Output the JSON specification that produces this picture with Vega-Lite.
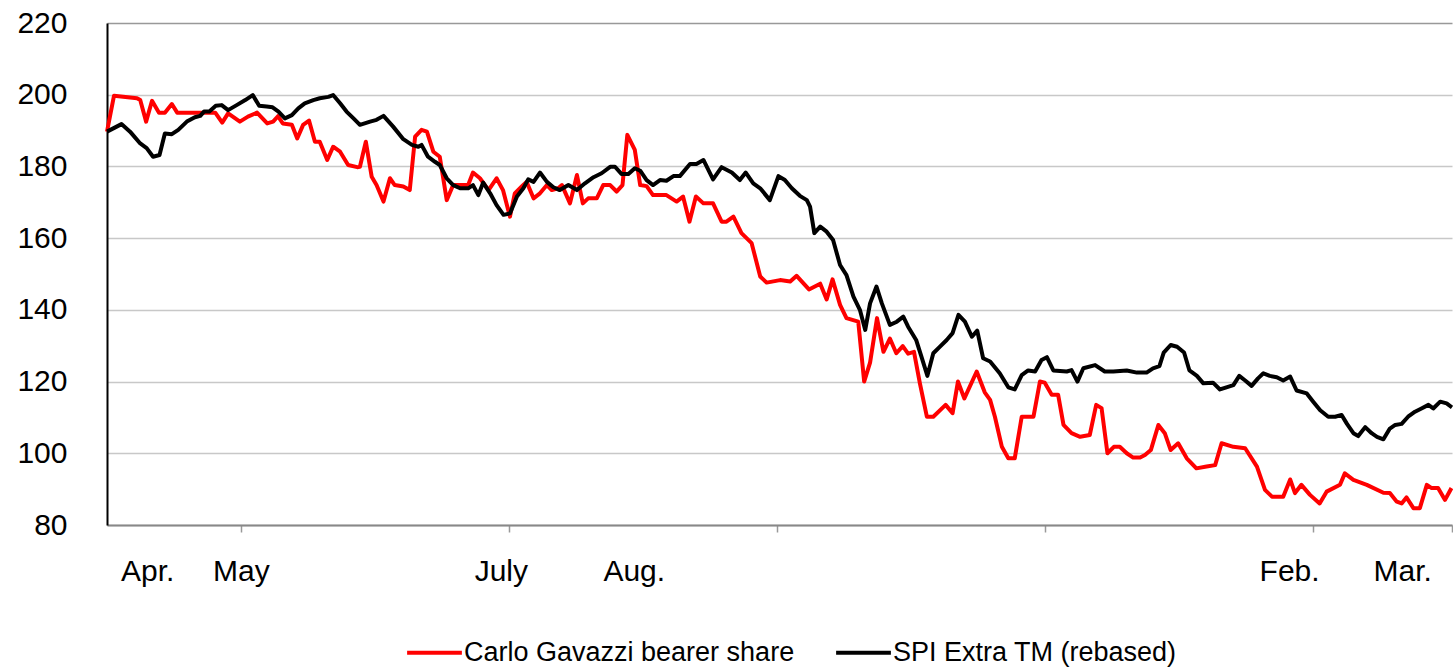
{
  "$schema": "https://vega.github.io/schema/vega-lite/v6.json",
  "width": 1345,
  "height": 502,
  "autosize": "none",
  "padding": {"left": 107, "top": 23, "right": 1, "bottom": 143},
  "background": "white",
  "config": {"view": {"stroke": null}, "font": "Liberation Sans"},
  "datasets": {
    "cg": [
      {"t":0,"v":189.7},{"t":1.3,"v":199.7},{"t":5.6,"v":199},{"t":6.2,"v":198.5},{"t":7.3,"v":192.5},{"t":8.4,"v":198.3},{"t":9.7,"v":195},{"t":10.8,"v":195},{"t":12.1,"v":197.4},{"t":13.1,"v":195},{"t":20.2,"v":195},{"t":21.5,"v":192.2},{"t":22.6,"v":194.8},{"t":24.8,"v":192.5},{"t":26.3,"v":193.9},{"t":28,"v":195},{"t":29.9,"v":192},{"t":31,"v":192.5},{"t":31.9,"v":194},{"t":32.8,"v":192},{"t":34.5,"v":191.6},{"t":35.5,"v":187.8},{"t":36.6,"v":191.6},{"t":37.7,"v":192.8},{"t":38.8,"v":186.9},{"t":39.7,"v":186.9},{"t":41.1,"v":181.8},{"t":42.2,"v":185.5},{"t":43.5,"v":184.1},{"t":45,"v":180.4},{"t":46.7,"v":179.8},{"t":47.2,"v":179.9},{"t":48.3,"v":186.9},{"t":49.4,"v":177.1},{"t":50.3,"v":174.8},{"t":51.6,"v":170.2},{"t":52.8,"v":176.7},{"t":53.7,"v":174.8},{"t":55.3,"v":174.4},{"t":56.5,"v":173.4},{"t":57.5,"v":188.3},{"t":58.7,"v":190.2},{"t":59.7,"v":189.7},{"t":60.9,"v":184.1},{"t":62.1,"v":182.7},{"t":63.4,"v":170.6},{"t":64.6,"v":174.8},{"t":67.4,"v":174.8},{"t":68.3,"v":178.3},{"t":69.6,"v":176.7},{"t":71.2,"v":173.4},{"t":72.7,"v":176.7},{"t":73.9,"v":173.4},{"t":75.2,"v":166},{"t":76.1,"v":172.5},{"t":77.4,"v":174.4},{"t":78.3,"v":175.7},{"t":79.6,"v":171.1},{"t":80.8,"v":172.5},{"t":82.1,"v":174.8},{"t":83,"v":173.4},{"t":84.2,"v":173.9},{"t":84.9,"v":174.8},{"t":86.4,"v":169.7},{"t":87.7,"v":177.6},{"t":88.8,"v":169.7},{"t":89.8,"v":171.1},{"t":91.4,"v":171.1},{"t":92.6,"v":174.8},{"t":93.9,"v":174.8},{"t":95.1,"v":173},{"t":96.2,"v":174.8},{"t":97.1,"v":188.8},{"t":98.5,"v":184.6},{"t":99.5,"v":174.8},{"t":100.7,"v":174.5},{"t":101.9,"v":172},{"t":104.4,"v":172},{"t":106.3,"v":170.2},{"t":107.5,"v":171.6},{"t":108.7,"v":164.6},{"t":109.9,"v":171.6},{"t":111.3,"v":169.7},{"t":113.1,"v":169.7},{"t":114.7,"v":164.6},{"t":115.6,"v":164.6},{"t":116.9,"v":166},{"t":118.4,"v":161.4},{"t":120.3,"v":158.6},{"t":121.9,"v":149.3},{"t":123.1,"v":147.6},{"t":125.6,"v":148.3},{"t":127.5,"v":147.9},{"t":128.7,"v":149.5},{"t":131,"v":145.7},{"t":133.1,"v":147.3},{"t":134.3,"v":142.9},{"t":135.4,"v":148.5},{"t":136.8,"v":141.4},{"t":138,"v":137.7},{"t":140.2,"v":136.7},{"t":141.3,"v":120},{"t":142.4,"v":125.3},{"t":143.7,"v":137.7},{"t":144.9,"v":128.3},{"t":146.1,"v":132},{"t":147.3,"v":127.9},{"t":148.5,"v":129.9},{"t":149.5,"v":127.8},{"t":150.6,"v":128.3},{"t":151.7,"v":119.5},{"t":153,"v":110.2},{"t":154.2,"v":110.2},{"t":156.5,"v":113.5},{"t":157.8,"v":111.2},{"t":158.8,"v":120},{"t":160,"v":115.3},{"t":162.3,"v":122.8},{"t":163.8,"v":117},{"t":164.8,"v":114.9},{"t":165.7,"v":110.2},{"t":167,"v":101.8},{"t":168.2,"v":98.6},{"t":169.4,"v":98.6},{"t":170.7,"v":110.2},{"t":172.9,"v":110.2},{"t":174.1,"v":120},{"t":175,"v":119.7},{"t":176.3,"v":116.3},{"t":177.5,"v":116.3},{"t":178.5,"v":107.9},{"t":180,"v":105.6},{"t":181.6,"v":104.6},{"t":183.4,"v":105.1},{"t":184.6,"v":113.5},{"t":185.6,"v":112.6},{"t":186.7,"v":100},{"t":187.9,"v":101.8},{"t":189,"v":101.8},{"t":190.3,"v":100},{"t":191.5,"v":98.8},{"t":192.8,"v":98.8},{"t":193.7,"v":99.5},{"t":194.8,"v":100.9},{"t":196.2,"v":107.9},{"t":197.4,"v":105.6},{"t":198.5,"v":100.9},{"t":199.9,"v":102.8},{"t":201.5,"v":98.6},{"t":203.3,"v":95.8},{"t":205.2,"v":96.3},{"t":206.8,"v":96.7},{"t":208,"v":102.8},{"t":210.2,"v":101.8},{"t":212.4,"v":101.4},{"t":214.6,"v":96.3},{"t":216.1,"v":89.8},{"t":217.4,"v":87.9},{"t":219.5,"v":87.9},{"t":220.8,"v":92.7},{"t":221.7,"v":88.9},{"t":222.9,"v":91.2},{"t":224.5,"v":88.4},{"t":226.3,"v":86},{"t":227.6,"v":89.3},{"t":230.1,"v":91.2},{"t":231,"v":94.4},{"t":232.6,"v":92.6},{"t":235.1,"v":91.2},{"t":238.2,"v":89},{"t":239.4,"v":88.9},{"t":240.7,"v":86.5},{"t":241.6,"v":86},{"t":242.5,"v":87.7},{"t":243.8,"v":84.7},{"t":245,"v":84.7},{"t":246.3,"v":91.2},{"t":247.2,"v":90.3},{"t":248.4,"v":90.3},{"t":249.7,"v":87},{"t":250.9,"v":90.3}
    ],
    "spi": [
      {"t":0,"v":189.7},{"t":2.7,"v":191.8},{"t":4.3,"v":189.7},{"t":6.2,"v":186.4},{"t":7.4,"v":185.1},{"t":8.6,"v":182.7},{"t":9.8,"v":183.2},{"t":10.8,"v":189.2},{"t":12.1,"v":189},{"t":13.3,"v":190.2},{"t":14.9,"v":192.5},{"t":16.4,"v":193.7},{"t":17.4,"v":194.1},{"t":18.1,"v":195.3},{"t":19.1,"v":195.3},{"t":20.3,"v":196.9},{"t":21.4,"v":197.1},{"t":22.6,"v":195.7},{"t":24.2,"v":197.1},{"t":25.8,"v":198.5},{"t":27.2,"v":199.9},{"t":28.4,"v":196.9},{"t":29.8,"v":196.7},{"t":30.9,"v":196.5},{"t":32,"v":195.3},{"t":33.2,"v":193.4},{"t":34.5,"v":194.3},{"t":35.7,"v":196.2},{"t":36.9,"v":197.6},{"t":38.5,"v":198.5},{"t":39.7,"v":199},{"t":41.3,"v":199.4},{"t":42.2,"v":199.9},{"t":43.5,"v":197.6},{"t":44.7,"v":195.3},{"t":46,"v":193.4},{"t":47.2,"v":191.6},{"t":49.1,"v":192.5},{"t":50.3,"v":193},{"t":51.6,"v":194.1},{"t":53.4,"v":191.1},{"t":55.3,"v":187.6},{"t":56.9,"v":186},{"t":58.1,"v":185.5},{"t":58.7,"v":186},{"t":59.9,"v":182.7},{"t":61.2,"v":181.3},{"t":62.1,"v":180.4},{"t":63.4,"v":176.7},{"t":64.6,"v":174.8},{"t":65.9,"v":173.9},{"t":67.4,"v":173.9},{"t":68.3,"v":174.8},{"t":69.3,"v":172},{"t":70.2,"v":175.5},{"t":71.5,"v":172.5},{"t":72.7,"v":169.2},{"t":74,"v":166.5},{"t":75.2,"v":166.9},{"t":76.5,"v":171.6},{"t":77.7,"v":173.9},{"t":78.6,"v":176.4},{"t":79.6,"v":175.7},{"t":80.8,"v":178.3},{"t":82.1,"v":175.7},{"t":83.3,"v":174.2},{"t":84.5,"v":173.4},{"t":86.1,"v":174.8},{"t":87.7,"v":173.4},{"t":89.2,"v":175.3},{"t":90.8,"v":177},{"t":92.3,"v":178.1},{"t":93.9,"v":179.9},{"t":94.8,"v":179.9},{"t":96,"v":177.9},{"t":97.3,"v":177.9},{"t":98.5,"v":179.5},{"t":99.5,"v":178.8},{"t":100.7,"v":176.2},{"t":101.9,"v":174.8},{"t":103.2,"v":176.2},{"t":104.4,"v":176},{"t":105.7,"v":177.3},{"t":106.9,"v":177.3},{"t":108.8,"v":180.7},{"t":110,"v":180.7},{"t":111.3,"v":181.8},{"t":113.1,"v":176.4},{"t":114.7,"v":179.8},{"t":116.6,"v":178.3},{"t":118.1,"v":176.2},{"t":119.2,"v":178.3},{"t":120.6,"v":175.3},{"t":121.9,"v":173.9},{"t":123.7,"v":170.6},{"t":125.3,"v":177.3},{"t":126.5,"v":176.2},{"t":127.8,"v":173.9},{"t":129.3,"v":171.8},{"t":130.6,"v":170.6},{"t":131.2,"v":168.8},{"t":132,"v":161.4},{"t":133.1,"v":163.2},{"t":134.3,"v":161.8},{"t":135.5,"v":159.5},{"t":136.8,"v":152.5},{"t":138,"v":149.7},{"t":139.3,"v":143.7},{"t":140.5,"v":140},{"t":141.5,"v":134.4},{"t":142.4,"v":141.8},{"t":143.6,"v":146.5},{"t":144.6,"v":141.8},{"t":146.1,"v":135.8},{"t":147.4,"v":136.7},{"t":148.6,"v":138.1},{"t":149.5,"v":135.3},{"t":151,"v":131.6},{"t":152,"v":126.9},{"t":153.1,"v":121.6},{"t":154.2,"v":127.9},{"t":155.4,"v":129.7},{"t":156.7,"v":131.6},{"t":157.8,"v":133.5},{"t":158.9,"v":138.6},{"t":160.1,"v":136.7},{"t":161.4,"v":132.5},{"t":162.4,"v":134.2},{"t":163.5,"v":126.5},{"t":164.8,"v":125.6},{"t":166.6,"v":122.3},{"t":168.2,"v":118.4},{"t":169.4,"v":117.8},{"t":170.7,"v":121.8},{"t":171.9,"v":123.1},{"t":173.2,"v":122.8},{"t":174.4,"v":126},{"t":175.4,"v":126.8},{"t":176.6,"v":123.1},{"t":179.1,"v":122.8},{"t":180,"v":123.2},{"t":181.1,"v":120},{"t":182.2,"v":123.7},{"t":184.4,"v":124.6},{"t":186.2,"v":122.8},{"t":187.8,"v":122.8},{"t":190.3,"v":123.1},{"t":192.2,"v":122.5},{"t":194,"v":122.5},{"t":195.2,"v":123.7},{"t":196.4,"v":124.3},{"t":197.2,"v":128.1},{"t":198.5,"v":130.2},{"t":199.7,"v":129.7},{"t":201,"v":128.1},{"t":202,"v":123.1},{"t":203.4,"v":121.6},{"t":204.6,"v":119.5},{"t":206.4,"v":119.7},{"t":207.7,"v":117.8},{"t":208.9,"v":118.4},{"t":210.2,"v":119},{"t":211.3,"v":121.6},{"t":212.4,"v":120.3},{"t":213.6,"v":118.8},{"t":214.8,"v":120.9},{"t":215.8,"v":122.3},{"t":217,"v":121.6},{"t":218.3,"v":121.2},{"t":219.5,"v":120.3},{"t":220.8,"v":121.4},{"t":222,"v":117.5},{"t":223.9,"v":116.7},{"t":225.1,"v":114.4},{"t":226.4,"v":112},{"t":227.9,"v":110.2},{"t":229.2,"v":110.2},{"t":230.4,"v":110.7},{"t":231.4,"v":108.2},{"t":232.6,"v":105.6},{"t":233.5,"v":104.8},{"t":234.8,"v":107.3},{"t":236,"v":105.6},{"t":237,"v":104.6},{"t":238.2,"v":103.9},{"t":239.4,"v":106.9},{"t":240.4,"v":107.9},{"t":241.6,"v":108.2},{"t":242.8,"v":110.2},{"t":244.1,"v":111.6},{"t":245.3,"v":112.5},{"t":246.6,"v":113.5},{"t":247.5,"v":112.5},{"t":248.8,"v":114.4},{"t":250,"v":113.9},{"t":251,"v":112.8}
    ]
  },
  "layer": [
    {
      "data": {"name": "cg"},
      "mark": {"type": "line", "strokeWidth": 4, "strokeJoin": "round"},
      "encoding": {
        "x": {
          "field": "t", "type": "quantitative",
          "scale": {"domain": [0, 251], "nice": false, "zero": false},
          "axis": {
            "title": null, "grid": false,
            "values": [7.5, 25, 73.5, 75, 98.3, 125, 175, 220.6, 225, 241.7, 251],
            "labelExpr": "datum.value == 7.5 ? 'Apr.' : datum.value == 25 ? 'May' : datum.value == 73.5 ? 'July' : datum.value == 98.3 ? 'Aug.' : datum.value == 220.6 ? 'Feb.' : datum.value == 241.7 ? 'Mar.' : ''",
            "labelFontSize": 30, "labelColor": "#000000", "labelPadding": 24,
            "labelOverlap": false, "labelBound": false, "labelFlush": false,
            "domainColor": "#888888", "domainWidth": 2,
            "tickColor": "#999999", "tickWidth": 1.5, "tickSize": 7,
            "tickOpacity": {"condition": {"test": "indexof([25,75,125,175,225,251], datum.value) >= 0", "value": 1}, "value": 0}
          }
        },
        "y": {
          "field": "v", "type": "quantitative",
          "scale": {"domain": [80, 220], "nice": false, "zero": false},
          "axis": {
            "title": null, "values": [80, 100, 120, 140, 160, 180, 200, 220],
            "grid": true, "gridColor": {"condition": {"test": "datum.value == 220", "value": "#999999"}, "value": "#c8c8c8"}, "gridWidth": 1.5,
            "ticks": false, "labelPadding": 40, "labelFontSize": 30, "labelColor": "#000000",
            "domainColor": "#000000", "domainWidth": 2
          }
        },
        "color": {
          "datum": "Carlo Gavazzi bearer share", "type": "nominal",
          "scale": {"domain": ["Carlo Gavazzi bearer share", "SPI Extra TM (rebased)"], "range": ["#ff0000", "#000000"]},
          "legend": {
            "title": null, "orient": "none", "legendX": 298, "legendY": 600, "direction": "horizontal",
            "symbolType": "stroke", "symbolStrokeWidth": 4, "symbolSize": 3000,
            "labelFontSize": 27, "labelColor": "#000000", "labelOffset": 0, "labelLimit": 600,
            "columnPadding": 33
          }
        }
      }
    },
    {
      "data": {"name": "spi"},
      "mark": {"type": "line", "strokeWidth": 4, "strokeJoin": "round"},
      "encoding": {
        "x": {"field": "t", "type": "quantitative"},
        "y": {"field": "v", "type": "quantitative"},
        "color": {"datum": "SPI Extra TM (rebased)", "type": "nominal"}
      }
    }
  ]
}
